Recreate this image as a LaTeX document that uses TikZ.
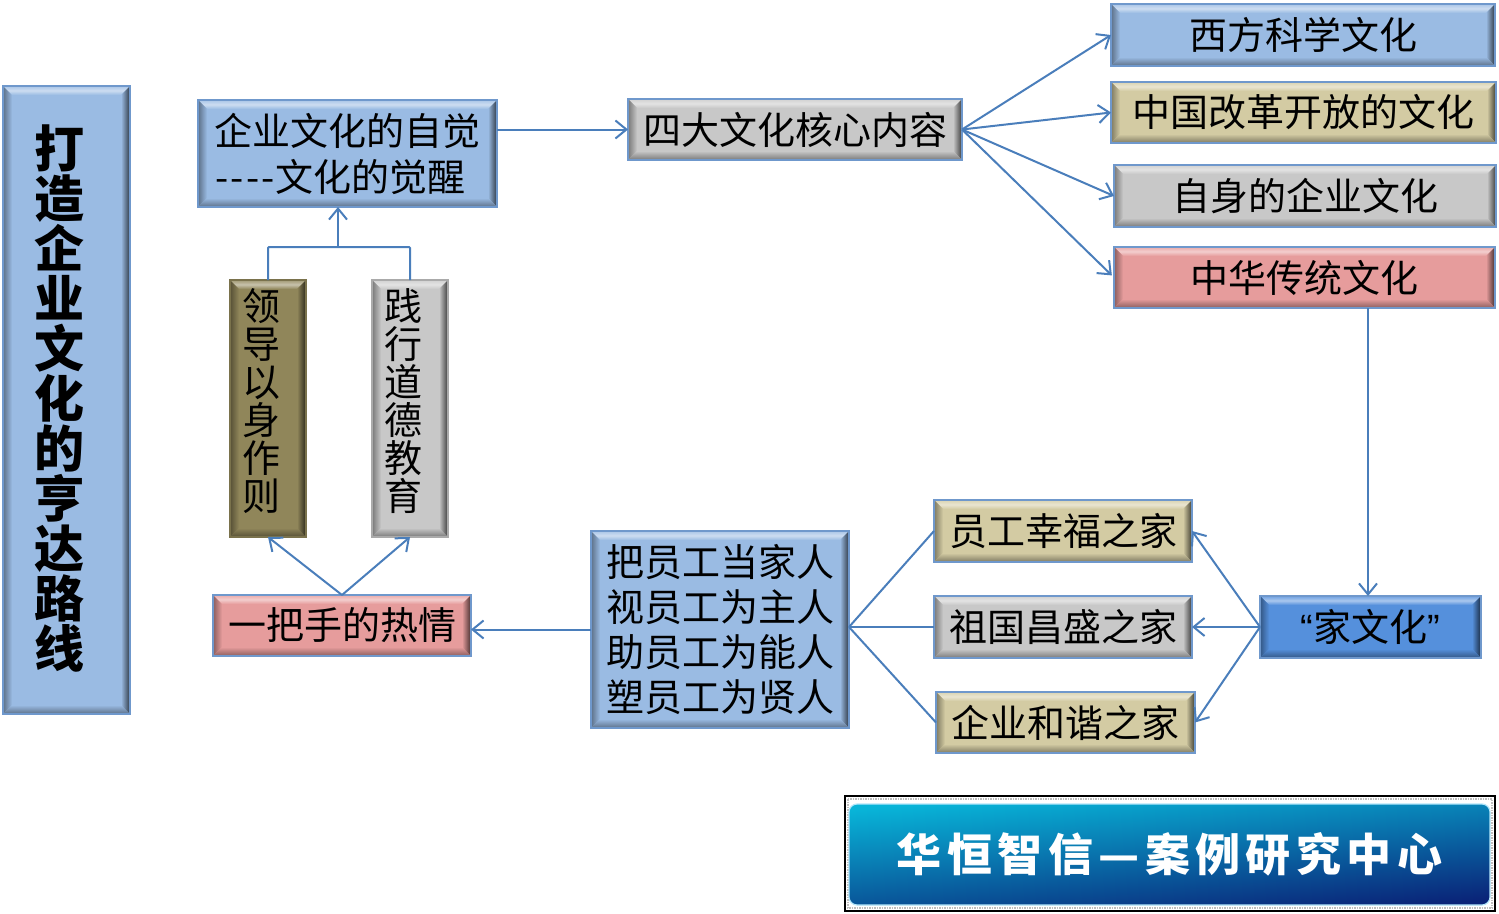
\documentclass[tikz,border=0pt]{standalone}
\usepackage{fontspec}
\usetikzlibrary{calc,arrows.meta}
\setmainfont{Noto Sans CJK SC}
\newfontfamily\quotefont{Liberation Sans}
\definecolor{edgeblue}{HTML}{6F98CC}
\definecolor{linkblue}{HTML}{4A7EBB}
\definecolor{cblue}{HTML}{9ABBE3}
\definecolor{colive}{HTML}{D3CBA3}
\definecolor{cgray}{HTML}{C8C8C8}
\definecolor{cred}{HTML}{E69C9C}
\definecolor{cdark}{HTML}{90865A}
\definecolor{cjia}{HTML}{5590DC}
\definecolor{bantop}{HTML}{08B4D8}
\definecolor{banbot}{HTML}{0A2478}
\newcommand{\bevelpic}[1]{%
  \coordinate (NW) at (path picture bounding box.north west);
  \coordinate (NE) at (path picture bounding box.north east);
  \coordinate (SW) at (path picture bounding box.south west);
  \coordinate (SE) at (path picture bounding box.south east);
  \coordinate (nw) at ($(NW)+(9pt,-9pt)$);
  \coordinate (ne) at ($(NE)+(-9pt,-9pt)$);
  \coordinate (sw) at ($(SW)+(9pt,9pt)$);
  \coordinate (se) at ($(SE)+(-9pt,9pt)$);
  \shade[top color=#1!85!white, bottom color=#1, middle color=#1!50!white] (NW)--(NE)--(ne)--(nw)--cycle;
  \shade[left color=#1!60!black, right color=#1] (NW)--(nw)--(sw)--(SW)--cycle;
  \shade[left color=#1, right color=#1!30!black] (NE)--(ne)--(se)--(SE)--cycle;
  \shade[top color=#1, bottom color=#1!60!black] (SW)--(sw)--(se)--(SE)--cycle;
}
\newcommand{\vtext}[4]{\raisebox{#2}[0pt][0pt]{\makebox[0pt][c]{\hspace{#4}\parbox[c]{#1}{\centering\fontsize{#1}{#1}\selectfont\lineskiplimit=-100pt\baselineskip=#1 #3}}}}
\newcommand{\hy}{\makebox[15.3pt][c]{-}}
\tikzset{
  x=1pt,y=-1pt,
  bevelbox/.style={draw=edgeblue,line width=1.5pt,fill=#1,inner sep=0pt,outer sep=0pt,
    text=black,font=\fontsize{38}{46}\selectfont,path picture={\bevelpic{#1}}},
  link/.style={draw=linkblue,line width=2pt},
  arrowlink/.style={link,-{Straight Barb[length=11pt,width=18pt,line width=2pt]}},
  banner/.style={rounded corners=8pt,draw=cyan!30!white,line width=1.2pt,top color=bantop,bottom color=banbot,shading angle=5,inner sep=0pt,outer sep=0pt,text=white,font=\fontsize{45}{50}\selectfont\bfseries\addfontfeature{LetterSpace=12}},
}
\begin{document}
\begin{tikzpicture}
\useasboundingbox (0,0) rectangle (1499,913);
\node[bevelbox=cblue,minimum width=127pt,minimum height=628pt] (main) at (66.5,400) {\vtext{50pt}{-4.5pt}{\bfseries 打\\造\\企\\业\\文\\化\\的\\亨\\达\\路\\线}{-15pt}};
\node[bevelbox=cblue,minimum width=299pt,minimum height=107pt,align=left] (a) at (347.5,153.5) {企业文化的自觉\\\hy\hy\hy\hy 文化的觉醒};
\node[bevelbox=cgray,minimum width=334pt,minimum height=61pt] (b) at (795,129.5) {四大文化核心内容};
\node[bevelbox=cblue,minimum width=384pt,minimum height=62pt] (c1) at (1303,35) {西方科学文化};
\node[bevelbox=colive,minimum width=385pt,minimum height=61pt] (c2) at (1303.5,112.5) {中国改革开放的文化};
\node[bevelbox=cgray,minimum width=382pt,minimum height=62pt] (c3) at (1305,196) {自身的企业文化};
\node[bevelbox=cred,minimum width=381pt,minimum height=61pt] (c4) at (1304.5,277.5) {中华传统文化};
\node[bevelbox=cjia,minimum width=221pt,minimum height=62pt] (jia) at (1370.5,627) {{\quotefont “}家文化{\quotefont ”}};
\node[bevelbox=colive,minimum width=258pt,minimum height=62pt] (d1) at (1063,531) {员工幸福之家};
\node[bevelbox=cgray,minimum width=258pt,minimum height=62pt] (d2) at (1063,627) {祖国昌盛之家};
\node[bevelbox=colive,minimum width=259pt,minimum height=61pt] (d3) at (1065.5,722.5) {企业和谐之家};
\node[bevelbox=cblue,minimum width=258pt,minimum height=197pt,align=left,font=\fontsize{38}{45}\selectfont] (e) at (720,629.5) {把员工当家人\\视员工为主人\\助员工为能人\\塑员工为贤人};
\node[bevelbox=cred,minimum width=258pt,minimum height=61pt] (f) at (342,625.5) {一把手的热情};
\node[bevelbox=cdark,draw=cdark!85!black,minimum width=76pt,minimum height=257pt] (g) at (268,408.5) {\vtext{38pt}{1pt}{领\\导\\以\\身\\作\\则}{-13pt}};
\node[bevelbox=cgray,draw=cgray!85!black,minimum width=76pt,minimum height=257pt] (h) at (410,408.5) {\vtext{38pt}{1pt}{践\\行\\道\\德\\教\\育}{-13pt}};
% banner
\draw[black,line width=2pt,fill=white] (845,796) rectangle (1495,911);
\draw[gray!50,line width=1.5pt,densely dotted] (848,799) rectangle (1492,908);
\node[banner,minimum width=641pt,minimum height=101pt] (ban) at (1169.5,854.5) {华恒智信—案例研究中心};
% connectors
\draw[arrowlink] (a.east |- b.west) -- (b.west);
\draw[arrowlink] (b.east) -- (c1.west);
\draw[arrowlink] (b.east) -- (c2.west);
\draw[arrowlink] (b.east) -- (c3.west);
\draw[arrowlink,shorten >=3pt] (b.east) -- (c4.west);
\coordinate (jtop) at ($(jia.north)+(-2.5pt,0pt)$);
\draw[arrowlink] (jtop |- c4.south) -- (jtop);
\draw[arrowlink] (jia.west) -- (d1.east);
\draw[arrowlink] (jia.west) -- (d2.east);
\draw[arrowlink] (jia.west) -- (d3.east);
\coordinate (eout) at ($(e.east)+(0pt,2.5pt)$);
\draw[link] (eout) -- (d1.west);
\draw[link] (eout) -- (d2.west);
\draw[link] (eout) -- (d3.west);
\draw[arrowlink] (e.west) -- (f.east |- e.west);
\draw[arrowlink] (f.north) -- (g.south);
\draw[arrowlink] (f.north) -- (h.south);
\coordinate (mid) at (338,247);
\draw[link,rounded corners=1pt] (g.north) |- (mid) -| (h.north);
\draw[arrowlink] (mid) -- (mid |- a.south);
\end{tikzpicture}
\end{document}
